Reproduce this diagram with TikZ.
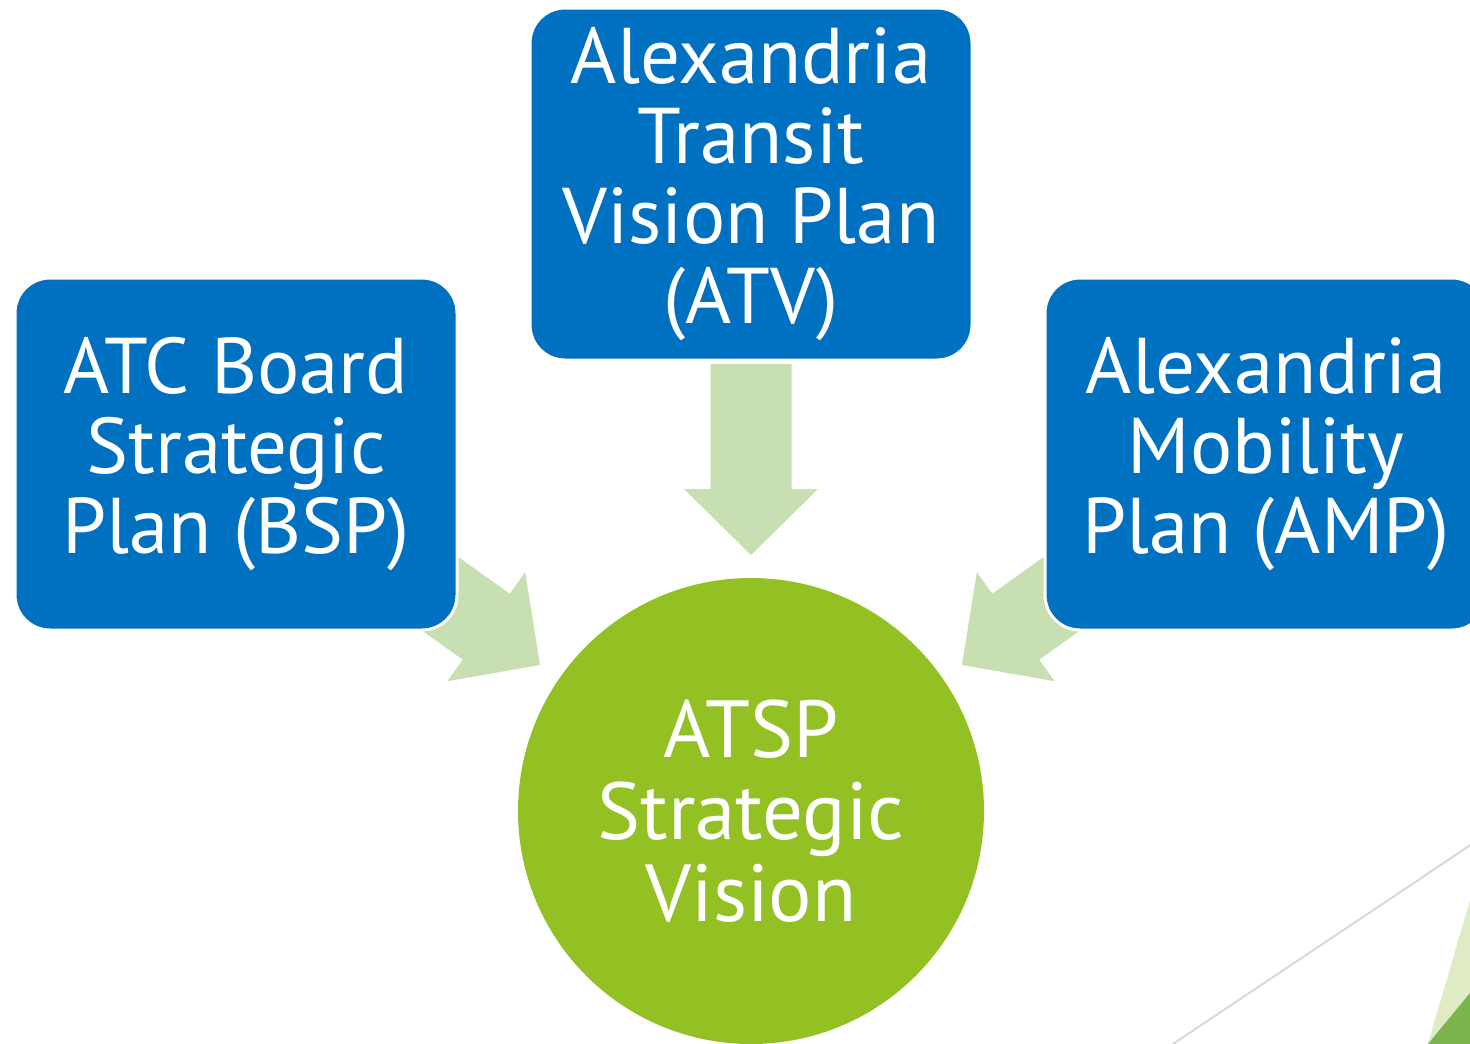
\documentclass[tikz,border=0pt]{standalone}
\usepackage{fontspec}
\setmainfont{PT Sans}
\definecolor{boxblue}{HTML}{0070C0}
\definecolor{circgreen}{HTML}{93C123}
\definecolor{arrowgreen}{HTML}{C8DFB1}
\definecolor{decolight}{HTML}{DEEBC5}
\definecolor{decodark}{HTML}{7BB44A}
\definecolor{decoline}{HTML}{D9D9D9}
\begin{document}
\begin{tikzpicture}[x=1pt,y=-1pt,
  planbox/.style={rectangle, rounded corners=35pt, fill=boxblue, draw=white,
    line width=3pt, text=white, minimum width=442pt, minimum height=352pt,
    align=center, inner sep=0pt, font=\fontsize{79}{80}\selectfont},
  hub/.style={circle, fill=circgreen, minimum size=466pt, inner sep=0pt,
    text=white, align=center, font=\fontsize{81}{82}\selectfont},
  blockarrow/.style={fill=arrowgreen}]
\useasboundingbox (0,0) rectangle (1470,1044);
\clip (0,0) rectangle (1470,1044);
% decorative corner
\draw[decoline, line width=2pt] (1170,1046) -- (1472,844);
\fill[decolight] (1470,900) -- (1428,1044) -- (1470,1044) -- cycle;
\fill[decodark] (1470,993) -- (1428,1044) -- (1470,1044) -- cycle;
% block arrows
\begin{scope}[shift={(751,555)}, rotate=-90]
  \path[blockarrow] (0,0) -- (-66,-67) -- (-66,-40.5) -- (-191,-40.5) -- (-191,40.5) -- (-66,40.5) -- (-66,67) -- cycle;
\end{scope}
\begin{scope}[shift={(540,665)}, rotate=-35.5]
  \path[blockarrow] (0,0) -- (-66,-67) -- (-66,-40.5) -- (-191,-40.5) -- (-191,40.5) -- (-66,40.5) -- (-66,67) -- cycle;
\end{scope}
\begin{scope}[shift={(962,665)}, rotate=-144.5]
  \path[blockarrow] (0,0) -- (-66,-67) -- (-66,-40.5) -- (-191,-40.5) -- (-191,40.5) -- (-66,40.5) -- (-66,67) -- cycle;
\end{scope}
% boxes
\node[planbox] (bsp) at (236,454) {ATC Board\\Strategic\\Plan (BSP)};
\node[planbox] (atv) at (751,184) {Alexandria\\Transit\\Vision Plan\\(ATV)};
\node[planbox] (amp) at (1266,454) {Alexandria\\Mobility\\Plan (AMP)};
% hub
\node[hub] (atsp) at (751,811) {ATSP\\Strategic\\Vision};
\end{tikzpicture}
\end{document}
